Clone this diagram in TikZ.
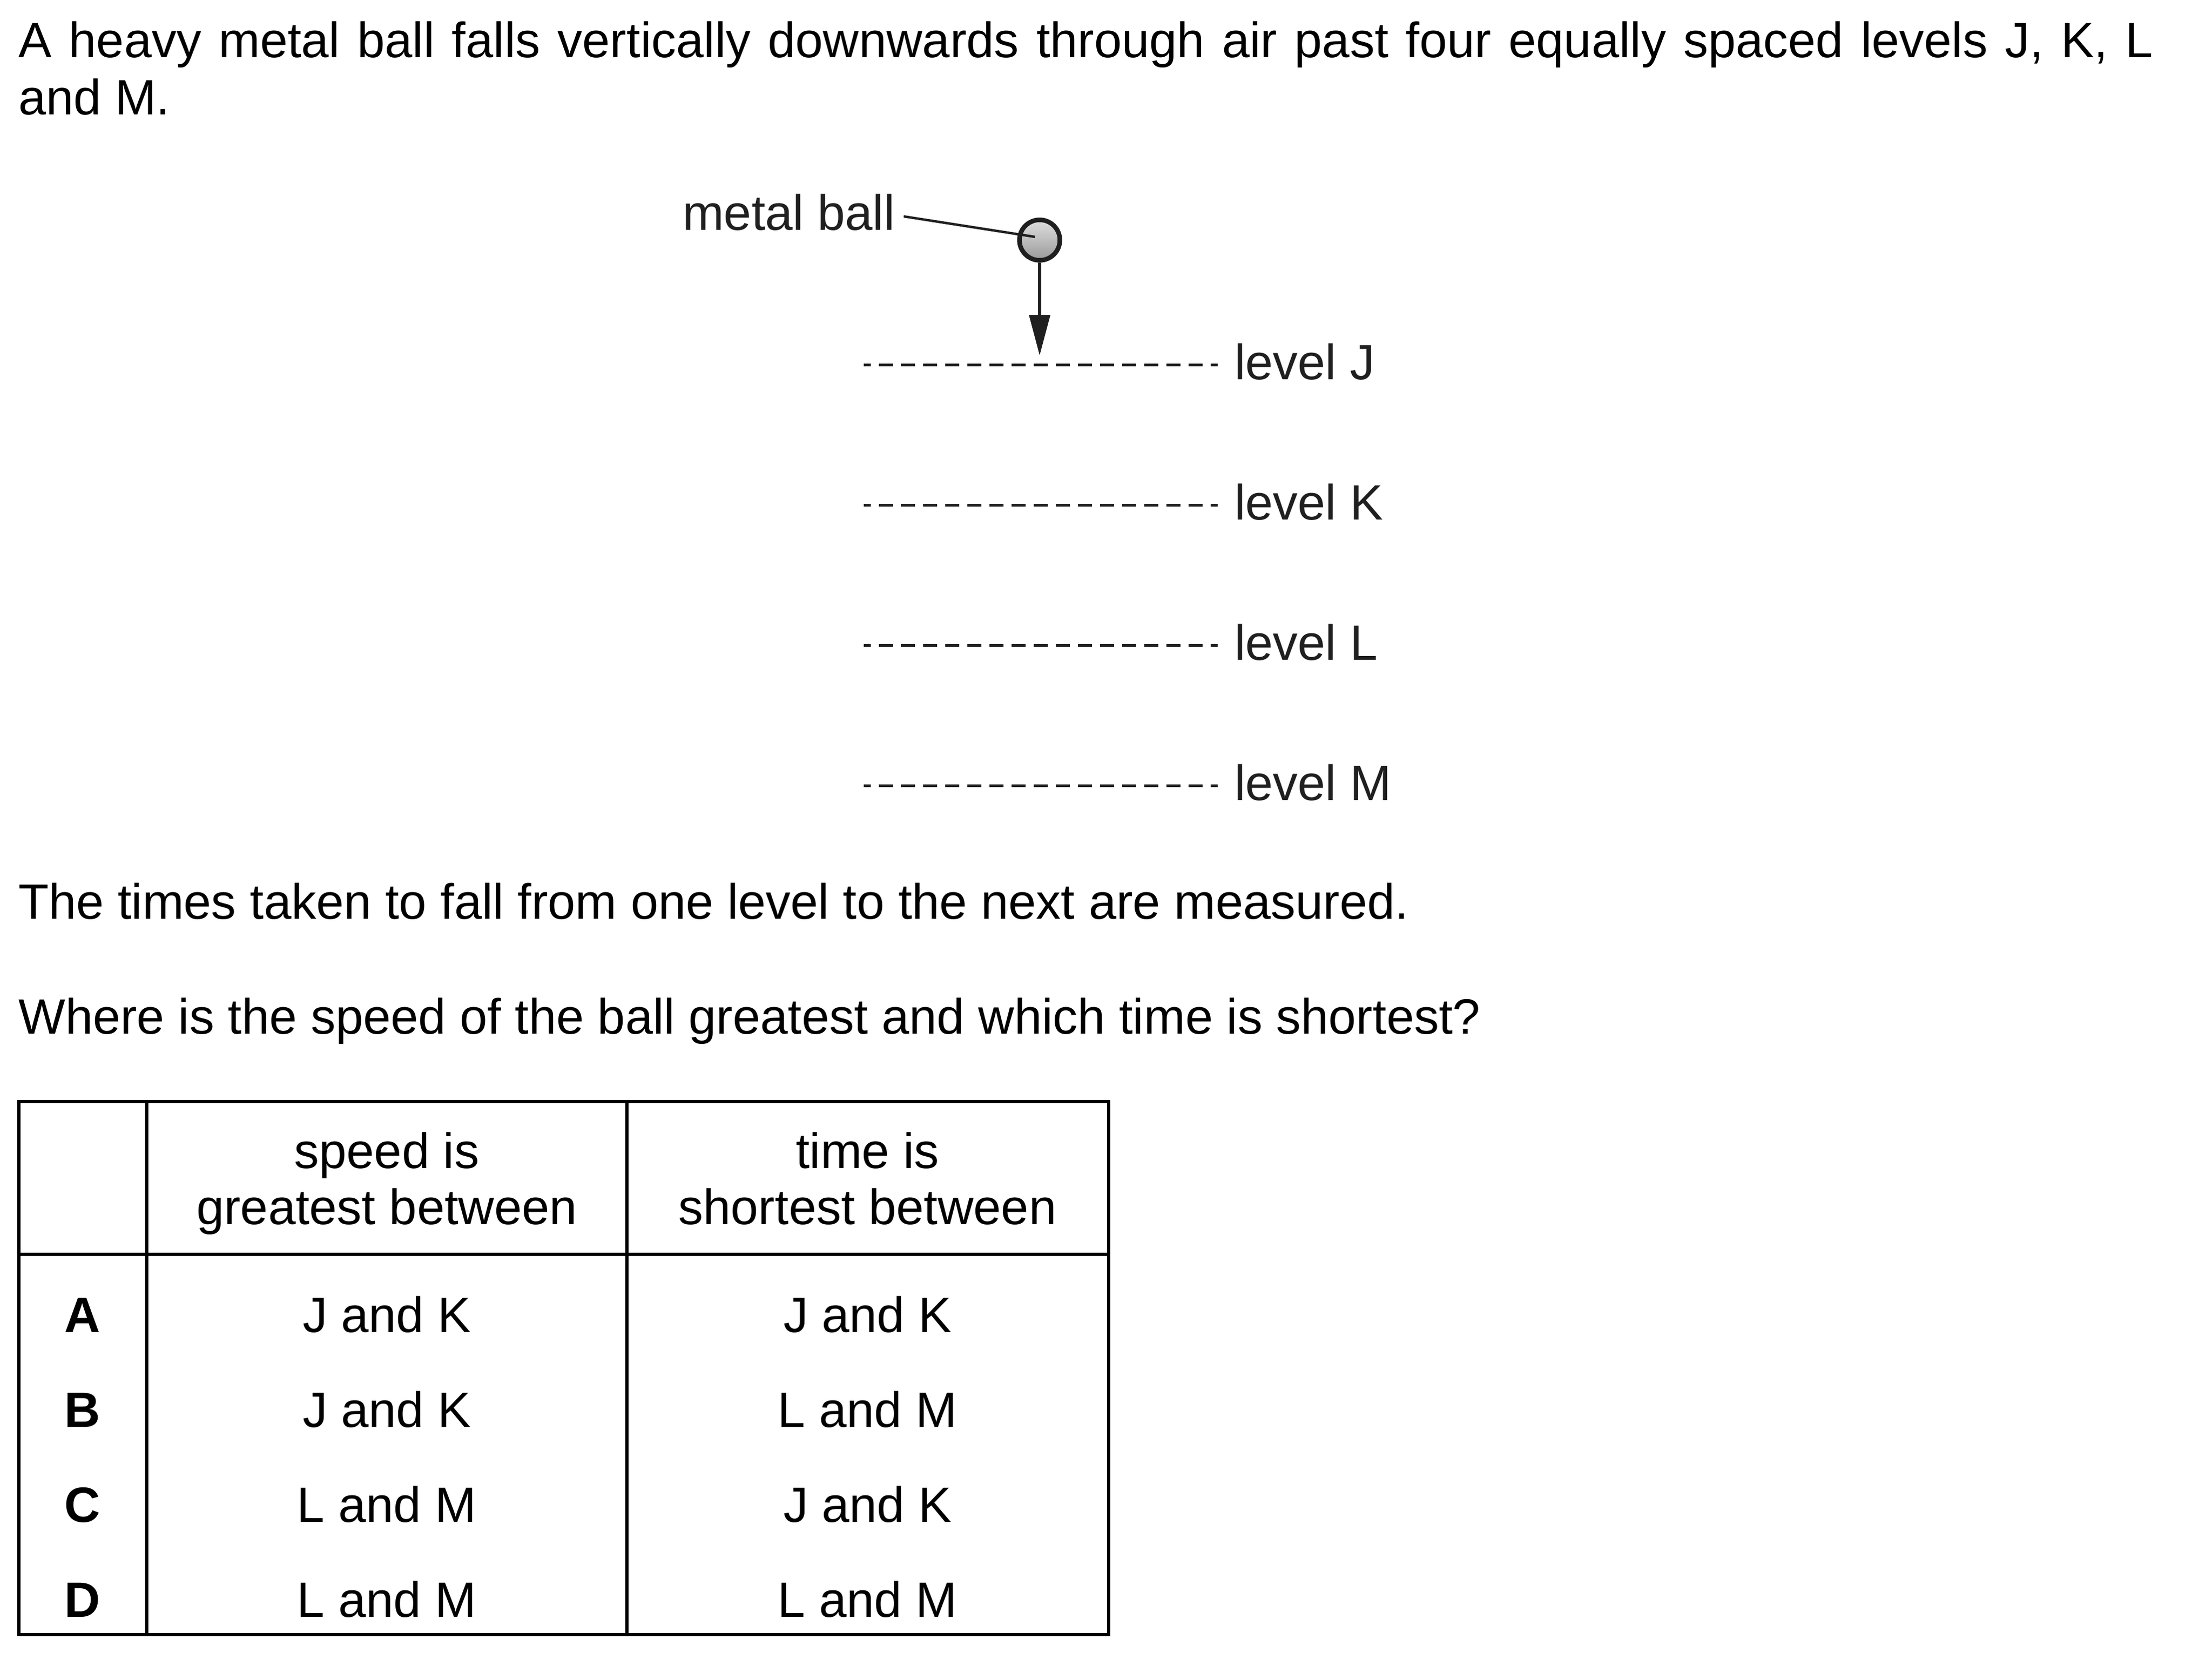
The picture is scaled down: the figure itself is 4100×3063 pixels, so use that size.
\documentclass[tikz,border=0pt]{standalone}
\usepackage{fontspec}
\setmainfont{Liberation Sans}
\usetikzlibrary{arrows.meta,calc}
\definecolor{diag}{gray}{0.12}
\begin{document}
\begin{tikzpicture}[x=1pt,y=-1pt,
  body/.style={inner sep=0pt, font=\fontsize{92}{106}\selectfont},
  txt/.style={body, anchor=base west},
  ctr/.style={body, anchor=base},
  lbl/.style={txt, text=diag},
  lvl/.style={draw=diag, line width=5pt, dash pattern=on 26pt off 15pt, dash phase=13pt},
  rule/.style={line width=5.5pt, black},
  conn/.style={draw=diag, line width=4.5pt}
]
\useasboundingbox[fill=white] (0,0) rectangle (4100,3063);

% introduction
\node[txt] (intro) at (34,106) {\parbox[t]{3957pt}{A heavy metal ball falls vertically downwards through air past four equally spaced levels J, K, L\linebreak and M.}};

% ball and arrow
\node[circle, draw=diag, line width=8.5pt, minimum size=75pt, inner sep=0pt,
      top color=gray!25, bottom color=gray!80] (ball) at (1927,445) {};
\node[lbl] (mb) at (1265,426) {metal ball};
\draw[conn] ($(mb.east)+(16,8)$) -- ($(ball.center)+(-9,-6)$);
\coordinate (tip) at (1927,659);
\draw[diag, line width=6pt, -{Triangle[length=75pt,width=38pt]}] (ball.south) -- (tip);

% levels
\foreach \n/\y in {J/676, K/936, L/1196, M/1456}{
  \coordinate (\n a) at (1601,\y);
  \coordinate (\n b) at (2257,\y);
  \draw[lvl] (\n a) -- (\n b);
  \node[lbl] (lev\n) at (2288,\y+27) {level \n};
}

% questions
\node[txt] (q1) at (34,1703) {The times taken to fall from one level to the next are measured.};
\node[txt] (q2) at (34,1916) {Where is the speed of the ball greatest and which time is shortest?};

% table
\draw[rule] (35,2042) rectangle (2055,3030);
\draw[rule] (272,2042) -- (272,3030);
\draw[rule] (1162,2042) -- (1162,3030);
\draw[rule] (35,2325) -- (2055,2325);

\node[ctr] (h1a) at (717,2165) {speed is};
\node[ctr] (h1b) at (717,2269) {greatest between};
\node[ctr] (h2a) at (1608,2165) {time is};
\node[ctr] (h2b) at (1608,2269) {shortest between};

\foreach \k/\y/\s/\t in {A/2469/J and K/J and K, B/2645/J and K/L and M, C/2821/L and M/J and K, D/2997/L and M/L and M}{
  \node[ctr, font=\fontsize{92}{106}\selectfont\bfseries] (r\k) at (153,\y) {\k};
  \node[ctr] (s\k) at (717,\y) {\s};
  \node[ctr] (t\k) at (1608,\y) {\t};
}
\end{tikzpicture}
\end{document}
